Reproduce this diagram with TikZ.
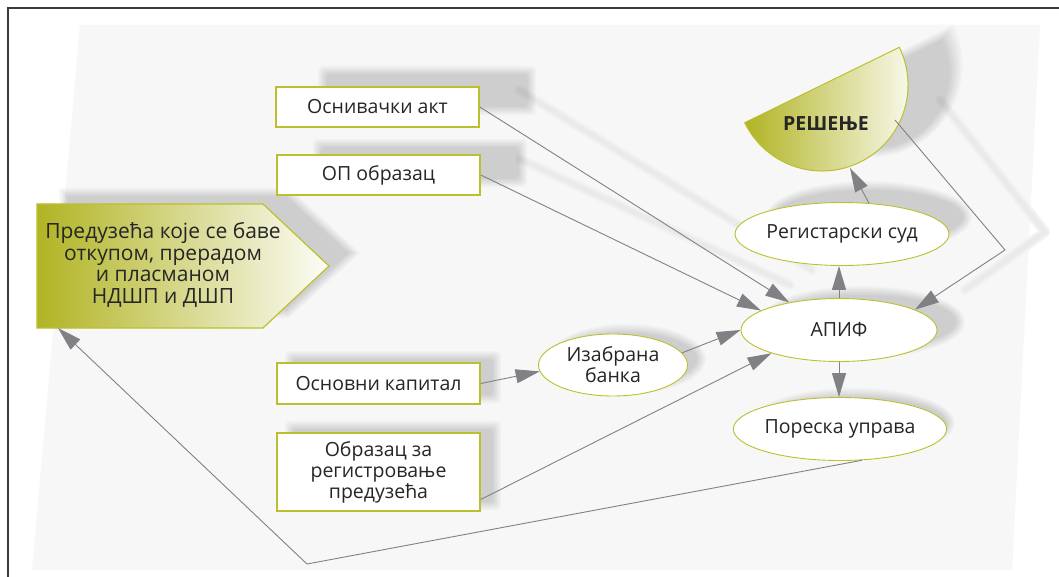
\documentclass[tikz,border=0pt]{standalone}
\usepackage{fontspec}
\setmainfont{Open Sans}
\usetikzlibrary{arrows.meta,shapes.geometric,calc}
\definecolor{olv}{HTML}{BCC02E}
\definecolor{olvdark}{HTML}{B1B424}
\definecolor{connc}{HTML}{808184}
\definecolor{bgc}{HTML}{F7F7F7}
\definecolor{framec}{HTML}{3A3A3A}
\definecolor{lineshA}{HTML}{F1F1F1}
\definecolor{lineshB}{HTML}{EAEAEA}
\pgfdeclarelayer{panel}
\pgfdeclarelayer{shadow}
\pgfsetlayers{panel,shadow,main}
% soft shadow helpers (nested translucent fills, no seams)
\newcommand\softbox[2]{\foreach \k in {0,...,6}{\fill[black, fill opacity=0.025, rounded corners=4pt] ($#1+(\k*1.4-3,\k*1.4-3)$) rectangle ($#2-(\k*1.4-3,\k*1.4-3)$);}}
\newcommand\softell[3]{\foreach \k in {0,...,6}{\fill[black, fill opacity=0.025] #1 ellipse[x radius={#2+3-\k*1.5}, y radius={#3+3-\k*1.5}];}}
\begin{document}
\begin{tikzpicture}[x=1pt,y=-1pt,
  txt/.style={font=\fontsize{19.5}{21}\selectfont, text=black!85},
  box/.style={txt, draw=olv, line width=1.6pt, fill=white, minimum width=203pt, minimum height=40pt, inner sep=2pt, align=center},
  oval/.style={txt, draw=olv, line width=0.9pt, fill=white, ellipse, minimum width=196pt, minimum height=63pt, inner sep=0pt, align=center},
  conn/.style={draw=connc, line width=0.9pt, -{Triangle[length=24pt,width=14pt]}},
  connshA/.style={draw=lineshA, line width=10pt, line cap=round, line join=round},
  connshB/.style={draw=lineshB, line width=5pt, line cap=round, line join=round},
]
\useasboundingbox (0,0) rectangle (1059,577);
\begin{pgfonlayer}{panel}
\fill[white] (0,0) rectangle (1059,577);
\fill[bgc] (80,25) -- (1040,25) -- (1012,570) -- (32,570) -- cycle;
\draw[framec, line width=1.1pt] (8,577) -- (8,8) -- (1059,8);
% connector shadows
\draw[connshA] (519,90) -- (812,270);
\draw[connshA] (520,159) -- (790,285);
\draw[connshA] (940,100) -- (1045,232) -- (965,290);
\draw[connshB] (519,90) -- (812,270);
\draw[connshB] (520,159) -- (790,285);
\draw[connshB] (940,100) -- (1045,232) -- (965,290);
\end{pgfonlayer}

% left pentagon
\path[left color=olvdark, right color=olv!4, draw=olv, line width=1.2pt]
  (37,204) -- (263,204) -- (329,266) -- (263,328) -- (37,328) -- cycle;
\node[txt, align=center, font=\fontsize{21}{21.5}\selectfont] (pred) at (163,265)
  {Предузећа које се баве\\откупом, прерадом\\и пласманом\\НДШП и ДШП};
\coordinate (predbot) at (58,328);

% decision semicircle
\path[left color=olvdark, right color=olv!4, draw=olv, line width=1pt]
  (822,85) ++(-26:86) arc[start angle=-26, end angle=154, radius=86] -- cycle;
\node[txt, font=\fontsize{19.5}{21}\selectfont\bfseries] (res) at (826,124) {РЕШЕЊЕ};
\coordinate (resin) at (850,168);
\coordinate (resout) at (895,120);

% boxes
\node[box] (osn) at (377.5,107) {Оснивачки акт};
\node[box] (op) at (378.5,175) {ОП образац};
\node[box, minimum height=41pt] (kap) at (378.5,383.5) {Основни капитал};
\node[box, minimum height=78pt] (obr) at (378.5,472) {Образац за\\регистровање\\предузећа};

% ovals
\node[oval, minimum width=149pt, minimum height=62pt] (banka) at (613,365) {Изабрана\\банка};
\node[oval] (apif) at (839,330) {АПИФ};
\node[oval] (sud) at (842,234) {Регистарски суд};
\node[oval] (por) at (840,429) {Пореска управа};

\coordinate (bendA) at (1005,250);
\coordinate (bendB) at (307,564);

% node shadows
\begin{pgfonlayer}{shadow}
\softbox{(321,69)}{(533,112)}
\softbox{(316,142)}{(524,184)}
\softbox{(288,354)}{(498,400)}
\softbox{(288,424)}{(498,507)}
\foreach \k in {0,...,6}{\fill[black, fill opacity=0.025]
  ({62+\k*1.4-3},{191+\k*1.4-3}) -- ({288-0.4*(\k*1.4-3)},{191+\k*1.4-3}) -- ({356-1.46*(\k*1.4-3)},253)
  -- ({288-0.4*(\k*1.4-3)},{315-\k*1.4+3}) -- ({62+\k*1.4-3},{315-\k*1.4+3}) -- cycle;}
\foreach \k in {0,...,6}{\fill[black, fill opacity=0.025]
  ({872+0.438*(\k*1.4-3)},{68+0.899*(\k*1.4-3)}) ++(-26:{86-2*(\k*1.4-3)})
  arc[start angle=-26, end angle=154, radius={86-2*(\k*1.4-3)}] -- cycle;}
\softell{(869,217)}{100}{33}
\softell{(862,322)}{100}{33}
\softell{(853,423)}{99}{32}
\softell{(627,359)}{76}{32}
\end{pgfonlayer}

% connectors
\draw[conn] (osn.east) -- (apif.151);
\draw[conn] (op.east) -- (apif.166);
\draw[conn] (kap.east) -- (banka.185);
\draw[conn] (banka.10) -- (apif.west);
\draw[conn] (obr.-15) -- (apif.199);
\draw[conn] (apif.north) -- (apif.north |- sud.south);
\draw[conn] (apif.south) -- (apif.south |- por.north);
\draw[conn] (sud.49) -- (resin);
\draw[conn] (resout) -- (bendA) -- (apif.15);
\draw[conn] (por.-55) -- (bendB) -- (predbot);
\end{tikzpicture}
\end{document}
